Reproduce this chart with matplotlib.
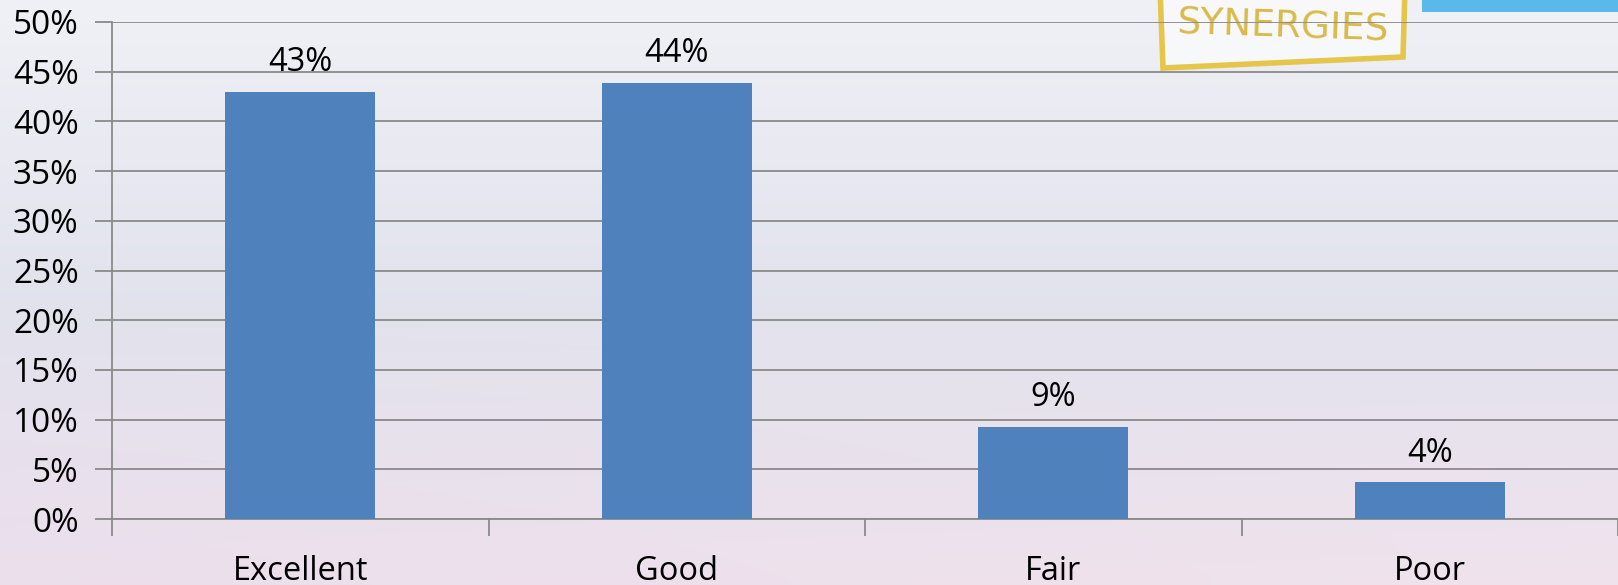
import numpy as np
import matplotlib
matplotlib.use("Agg")
import matplotlib.pyplot as plt
from matplotlib.patches import Polygon, Rectangle

categories = ["Excellent", "Good", "Fair", "Poor"]
values = [43.0, 43.9, 9.3, 3.7]
value_labels = ["43%", "44%", "9%", "4%"]
yticks = [0, 5, 10, 15, 20, 25, 30, 35, 40, 45, 50]
ytick_labels = [f"{t}%" for t in yticks]

plt.rcParams['font.family'] = ['Open Sans', 'DejaVu Sans']

W, H = 1618, 585
fig = plt.figure(figsize=(W / 100, H / 100), dpi=100)

# background gradient
bg = fig.add_axes([0, 0, 1, 1], zorder=-10)
bg.set_axis_off()
ny, nx = 60, 120
yy, xx = np.mgrid[0:1:ny * 1j, 0:1:nx * 1j]
top = np.array([0.94, 0.945, 0.965])
mid = np.array([0.885, 0.89, 0.93])
bot_l = np.array([0.925, 0.875, 0.925])
bot_r = np.array([0.94, 0.89, 0.93])
img = np.zeros((ny, nx, 3))
for c in range(3):
    bottom = bot_l[c] * (1 - xx) + bot_r[c] * xx
    t = yy
    upper = top[c] * (1 - t / 0.5) + mid[c] * (t / 0.5)
    lower = mid[c] * (1 - (t - 0.5) / 0.5) + bottom * ((t - 0.5) / 0.5)
    img[..., c] = np.where(t < 0.5, upper, lower)
bg.imshow(img, aspect='auto', extent=[0, 1, 0, 1], origin='upper', interpolation='bicubic')
bg.set_xlim(0, 1)
bg.set_ylim(0, 1)

# decorative logo pieces (top right)
bg.add_patch(Polygon([(1160 / W, 1.02), (1405 / W, 1.02), (1403 / W, 1 - 57 / H), (1163 / W, 1 - 68 / H)],
                     closed=True, facecolor=(1, 1, 1, 0.6), edgecolor='#e6c64a', linewidth=4))
bg.text(1283 / W, 1 - 27 / H, "SYNERGIES", color='#d8bb4a', fontsize=27, ha='center', va='center',
        family='DejaVu Sans Condensed', rotation=-2)
bg.add_patch(Rectangle((1422 / W, 1 - 12 / H), (W - 1422) / W, 0.05, facecolor='#5ab8ea', edgecolor='none'))

# main axes
left_px, right_px, top_px, zero_px = 112, W, 22, 519
ax = fig.add_axes([left_px / W, (H - zero_px) / H, (right_px - left_px) / W, (zero_px - top_px) / H])
ax.set_facecolor('none')
x = np.arange(len(categories))
cat_w = 380.0
ax.set_xlim(-0.5, -0.5 + (right_px - left_px) / cat_w)
ax.set_ylim(0, 50)

ax.bar(x, values, width=151 / cat_w, color='#4f81bd', zorder=3)

ax.set_yticks(yticks)
ax.set_yticklabels(ytick_labels, fontsize=24)
ax.yaxis.grid(True, color='#8a8a8a', linewidth=1.3, zorder=0)
ax.set_axisbelow(True)

ax.set_xticks(np.arange(-0.5, len(categories), 1.0))
ax.set_xticklabels([])
ax.set_xticks(x, minor=True)
ax.set_xticklabels(categories, minor=True, fontsize=23.5)
ax.tick_params(axis='x', which='minor', length=0, pad=26)
ax.tick_params(axis='x', which='major', length=12, width=1.3, color='#8a8a8a', direction='out')
ax.tick_params(axis='y', length=12, width=1.3, color='#8a8a8a', direction='out', pad=12)

for s in ['top', 'right']:
    ax.spines[s].set_visible(False)
for s in ['left', 'bottom']:
    ax.spines[s].set_color('#8a8a8a')
    ax.spines[s].set_linewidth(1.3)

for xi, v, lab in zip(x, values, value_labels):
    ax.annotate(lab, (xi, v), xytext=(0, 9), textcoords='offset points', ha='center', va='bottom',
                fontsize=23.5, color='black')

fig.savefig("out.png", dpi=100)
